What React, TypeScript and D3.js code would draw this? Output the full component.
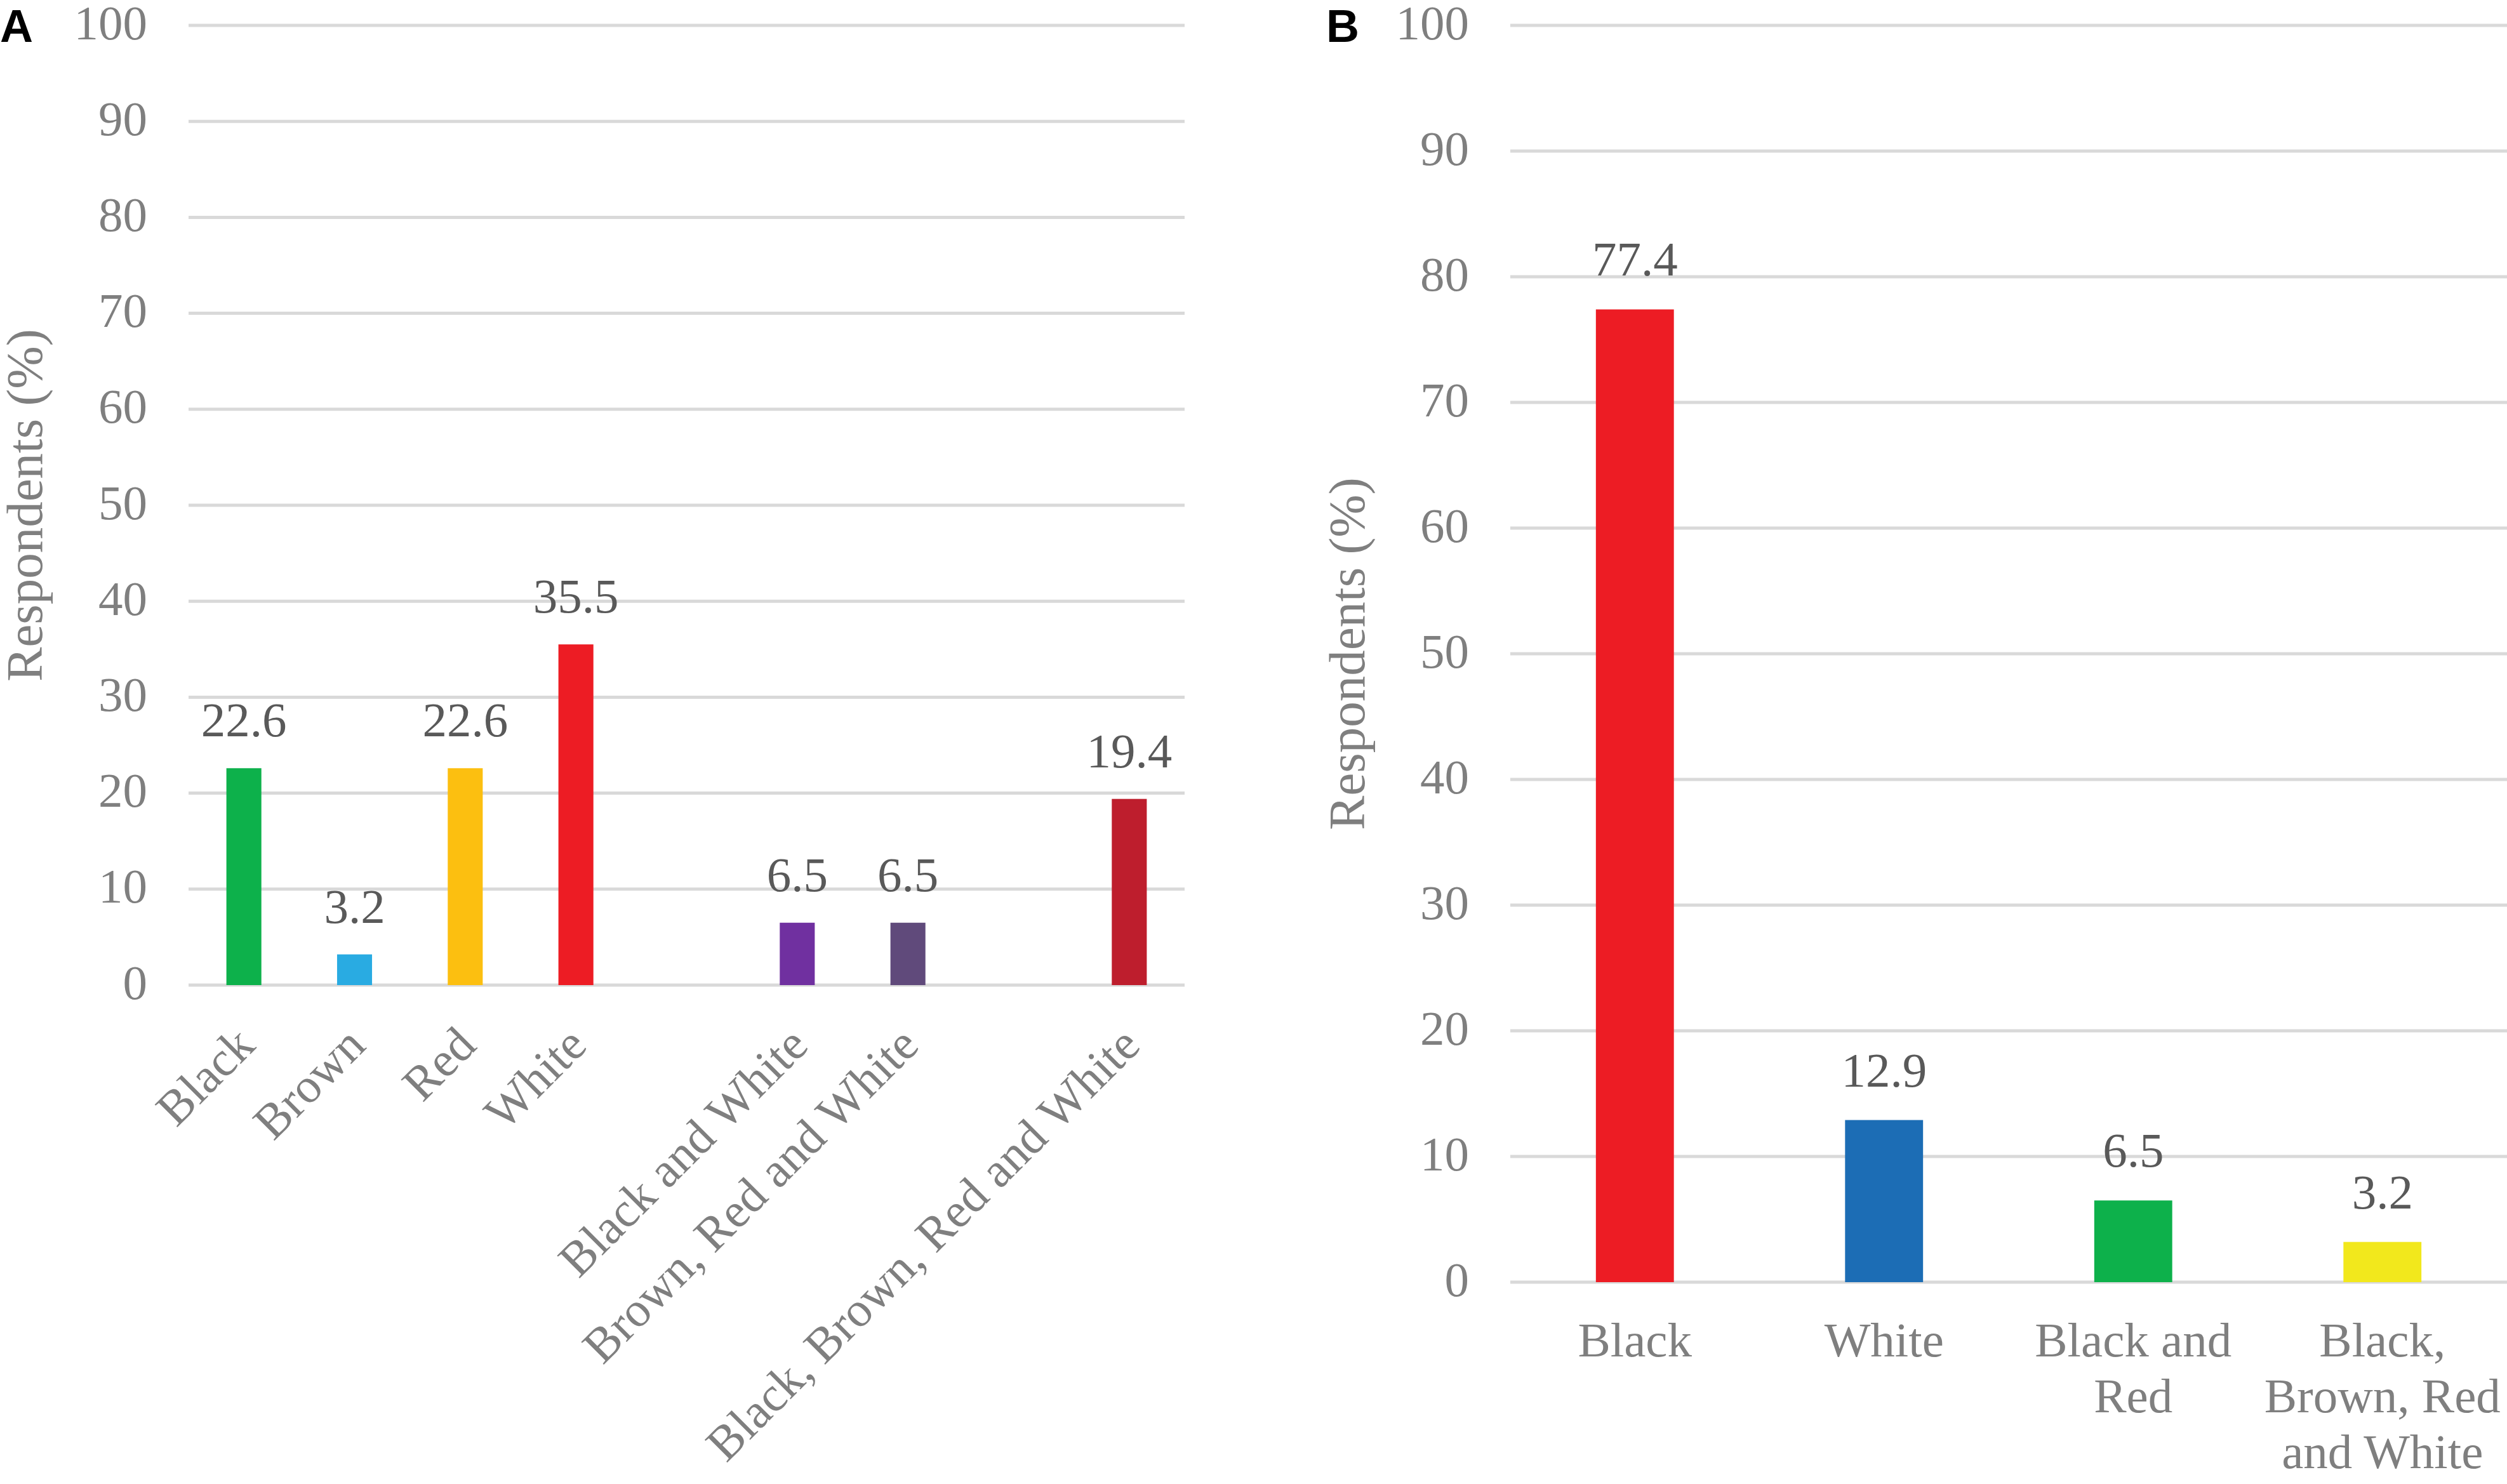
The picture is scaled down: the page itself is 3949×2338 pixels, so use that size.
import { useEffect, useRef } from 'react'
import * as d3 from 'd3'

// panel A
const coloursA = ['Black', 'Brown', 'Red', 'White', '', 'Black and White', 'Brown, Red and White', '', 'Black, Brown, Red and White']
const valuesA: (number | null)[] = [22.6, 3.2, 22.6, 35.5, null, 6.5, 6.5, null, 19.4]
const fillsA = ['#0DB14B', '#29ABE2', '#FCBF10', '#ED1C24', 'none', '#7030A0', '#604A7B', 'none', '#BE1E2D']

// panel B
const coloursB = [['Black'], ['White'], ['Black and', 'Red'], ['Black,', 'Brown, Red', 'and White']]
const valuesB = [77.4, 12.9, 6.5, 3.2]
const fillsB = ['#ED1C24', '#1C6DB5', '#0DB14B', '#F2E81C']

const yTicks = [0, 10, 20, 30, 40, 50, 60, 70, 80, 90, 100]

const W = 3949
const H = 2338
const FONT = '"Liberation Serif", "Times New Roman", serif'
const TICK_GREY = '#7F7F7F'
const LABEL_GREY = '#595959'
const FS = 77

function App() {
    const ref = useRef<SVGSVGElement | null>(null)

    useEffect(() => {
        const svg = d3.select(ref.current)
        svg.selectAll('*').remove()
        svg.attr('viewBox', [0, 0, W, H]).attr('width', W).attr('height', H)

        svg.append('rect').attr('width', W).attr('height', H).attr('fill', '#fff')

        function frame(g: any, x0: number, x1: number, y: d3.ScaleLinear<number, number>, titleX: number) {
            g.append('g')
                .selectAll('line')
                .data(yTicks)
                .join('line')
                .attr('x1', x0).attr('x2', x1)
                .attr('y1', (d: number) => y(d)).attr('y2', (d: number) => y(d))
                .attr('stroke', '#D9D9D9')
                .attr('stroke-width', 5)

            g.append('g')
                .selectAll('text')
                .data(yTicks)
                .join('text')
                .attr('x', x0 - 65)
                .attr('y', (d: number) => y(d) + 4)
                .attr('text-anchor', 'end')
                .attr('dominant-baseline', 'middle')
                .attr('font-family', FONT)
                .attr('font-size', FS)
                .attr('fill', TICK_GREY)
                .text((d: number) => d)

            const mid = (y(0) + y(100)) / 2
            g.append('text')
                .attr('transform', `translate(${titleX},${mid}) rotate(-90)`)
                .attr('text-anchor', 'middle')
                .attr('dominant-baseline', 'middle')
                .attr('font-family', FONT)
                .attr('font-size', FS + 4)
                .attr('fill', TICK_GREY)
                .text('Respondents (%)')
        }

        // ---- panel A ----
        const gA = svg.append('g')
        const yA = d3.scaleLinear().domain([0, 100]).range([1552, 40])
        const xA = d3.scaleBand<number>()
            .domain(d3.range(coloursA.length))
            .range([297, 1866])
            .paddingInner(0.684)
            .paddingOuter(0.342)

        frame(gA, 297, 1866, yA, 47)

        const dataA = valuesA.map((v, i) => ({ i, v })).filter(d => d.v !== null) as { i: number; v: number }[]

        gA.append('g')
            .selectAll('rect')
            .data(dataA)
            .join('rect')
            .attr('x', d => xA(d.i) ?? 0)
            .attr('y', d => yA(d.v))
            .attr('width', xA.bandwidth())
            .attr('height', d => yA(0) - yA(d.v))
            .attr('fill', d => fillsA[d.i])

        gA.append('g')
            .selectAll('text')
            .data(dataA)
            .join('text')
            .attr('x', d => (xA(d.i) ?? 0) + xA.bandwidth() / 2)
            .attr('y', d => yA(d.v) - 50)
            .attr('text-anchor', 'middle')
            .attr('font-family', FONT)
            .attr('font-size', FS)
            .attr('fill', LABEL_GREY)
            .text(d => d.v.toFixed(1))

        gA.append('g')
            .selectAll('text')
            .data(coloursA.map((c, i) => ({ c, i })).filter(d => d.c !== ''))
            .join('text')
            .attr('transform', d => `translate(${(xA(d.i) ?? 0) + xA.bandwidth() / 2 + 8},${yA(0) + 86}) rotate(-45)`)
            .attr('text-anchor', 'end')
            .attr('dominant-baseline', 'middle')
            .attr('font-family', FONT)
            .attr('font-size', FS)
            .attr('fill', TICK_GREY)
            .text(d => d.c)

        gA.append('text')
            .attr('x', 0).attr('y', 66)
            .attr('font-family', '"Liberation Sans", Arial, sans-serif')
            .attr('font-weight', 'bold')
            .attr('font-size', 72)
            .attr('fill', '#000')
            .text('A')

        // ---- panel B ----
        const gB = svg.append('g')
        const yB = d3.scaleLinear().domain([0, 100]).range([2020, 40])
        const xB = d3.scaleBand<number>()
            .domain(d3.range(coloursB.length))
            .range([2379, 3949])
            .paddingInner(0.687)
            .paddingOuter(0.3435)

        frame(gB, 2379, 3949, yB, 2130)

        gB.append('g')
            .selectAll('rect')
            .data(valuesB)
            .join('rect')
            .attr('x', (_d, i) => xB(i) ?? 0)
            .attr('y', d => yB(d))
            .attr('width', xB.bandwidth())
            .attr('height', d => yB(0) - yB(d))
            .attr('fill', (_d, i) => fillsB[i])

        gB.append('g')
            .selectAll('text')
            .data(valuesB)
            .join('text')
            .attr('x', (_d, i) => (xB(i) ?? 0) + xB.bandwidth() / 2)
            .attr('y', d => yB(d) - 53)
            .attr('text-anchor', 'middle')
            .attr('font-family', FONT)
            .attr('font-size', FS)
            .attr('fill', LABEL_GREY)
            .text(d => d.toFixed(1))

        const labelsB = gB.append('g')
            .selectAll('text')
            .data(coloursB)
            .join('text')
            .attr('x', (_d, i) => (xB(i) ?? 0) + xB.bandwidth() / 2)
            .attr('y', 2137)
            .attr('text-anchor', 'middle')
            .attr('font-family', FONT)
            .attr('font-size', FS)
            .attr('fill', TICK_GREY)

        labelsB.each(function (lines, i) {
            const cx = (xB(i) ?? 0) + xB.bandwidth() / 2
            d3.select(this)
                .selectAll('tspan')
                .data(lines)
                .join('tspan')
                .attr('x', cx)
                .attr('dy', (_l, j) => (j === 0 ? 0 : 88))
                .text(l => l)
        })

        gB.append('text')
            .attr('x', 2089).attr('y', 66)
            .attr('font-family', '"Liberation Sans", Arial, sans-serif')
            .attr('font-weight', 'bold')
            .attr('font-size', 72)
            .attr('fill', '#000')
            .text('B')
    }, [])

    return (
        <svg ref={ref} style={{ display: 'block', position: 'absolute', left: 0, top: 0 }}></svg>
    )
}

export default App
